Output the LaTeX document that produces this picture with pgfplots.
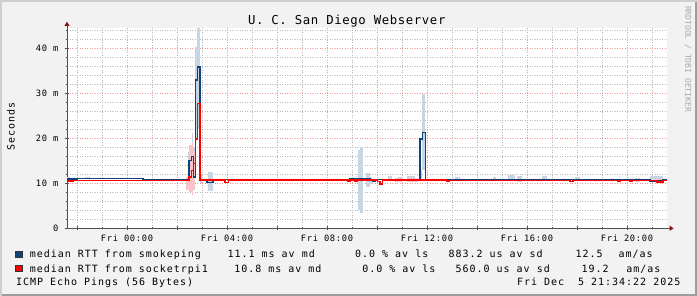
\documentclass[border=0pt]{standalone}
\usepackage{fontspec}
\usepackage{pgfplots}
\pgfplotsset{compat=1.18}
\usetikzlibrary{arrows.meta}
\newfontfamily\legfont{DejaVu Sans Mono}[LetterSpace=9.8]
\newfontfamily\axfont{DejaVu Sans Mono}[LetterSpace=7.8]
\newfontfamily\titfont{DejaVu Sans Mono}[LetterSpace=5]
\newfontfamily\wmfont{DejaVu Sans Mono}
\definecolor{bgc}{RGB}{242,242,242}
\definecolor{shadeA}{RGB}{207,207,207}
\definecolor{shadeB}{RGB}{158,158,158}
\definecolor{gridred}{RGB}{245,150,150}
\definecolor{gridgray}{RGB}{185,185,185}
\definecolor{axisgray}{RGB}{80,80,80}
\definecolor{arrowred}{RGB}{140,20,20}
\definecolor{lineblue}{RGB}{15,65,125}
\definecolor{linered}{RGB}{255,0,0}
\definecolor{smokeblue}{RGB}{200,214,228}
\definecolor{smokepink}{RGB}{250,195,200}
\newcommand\smoke[5]{\addplot[fill=#1,draw=none,forget plot] coordinates {(#2,#4)(#2,#5)(#3,#5)(#3,#4)};}
\begin{document}
\begin{tikzpicture}
\useasboundingbox (0bp,0bp) rectangle (697bp,296bp);
\begin{scope}[x=1bp,y=1bp]
\fill[bgc] (0,0) rectangle (697,296);
\fill[shadeA] (0,0) rectangle (2,296);
\fill[shadeA] (0,294) rectangle (697,296);
\fill[shadeB] (695,0) rectangle (697,294);
\fill[shadeB] (2,0) rectangle (697,2);
\end{scope}
\begin{axis}[
  at={(67bp,67.7bp)}, anchor=south west,
  width=600bp, height=200.6bp, scale only axis,
  xmin=-2.4, xmax=21.6, ymin=0, ymax=44.6,
  axis background/.style={fill=white},
  axis lines=left,
  x axis line style={draw=axisgray, line width=1bp, shorten >=-6.6bp, -{Triangle[length=4bp,width=5bp,color=arrowred]}},
  y axis line style={draw=axisgray, line width=1bp, shorten >=-6bp, -{Triangle[length=4.3bp,width=5bp,color=arrowred]}},
  xtick={-2,0,...,20},
  xticklabels={,Fri 00:00,,Fri 04:00,,Fri 08:00,,Fri 12:00,,Fri 16:00,,Fri 20:00},
  minor xtick={-1,1,...,21},
  ytick={0,10,20,30,40},
  yticklabels={0,10 m,20 m,30 m,40 m},
  minor ytick={2,4,6,8,12,14,16,18,22,24,26,28,32,34,36,38,42,44},
  grid=both,
  major grid style={draw=gridred, dash pattern=on 1bp off 1.5bp, line width=1bp},
  minor grid style={draw=gridgray, dash pattern=on 1bp off 1.5bp, line width=1bp},
  tick style={draw=axisgray, line width=0.8bp},
  major tick length=4bp, minor tick length=2bp,
  tick align=center,
  xticklabel style={font=\fontsize{8.75bp}{10bp}\axfont, text=black, inner sep=0pt, anchor=base, yshift=-11.7bp},
  yticklabel style={font=\fontsize{8.75bp}{10bp}\axfont, text=black, inner sep=0pt, anchor=east, xshift=-6.5bp},
  clip=true,
]
% smoke smokeping
\smoke{smokeblue}{-2.4}{-2.28}{10.8}{11.5}
\smoke{smokeblue}{-1.68}{-1.48}{11.0}{11.4}
\smoke{smokeblue}{2.44}{2.588}{9.5}{17}
\smoke{smokeblue}{2.588}{2.652}{9.0}{21.2}
\smoke{smokeblue}{2.652}{2.732}{8.5}{18}
\smoke{smokeblue}{2.732}{2.812}{20}{40.4}
\smoke{smokeblue}{2.812}{2.90}{22}{44.6}
\smoke{smokeblue}{2.92}{3.0}{10}{12}
\smoke{smokeblue}{3.24}{3.44}{8.4}{12.5}
\smoke{smokeblue}{9.228}{9.332}{4.0}{17.5}
\smoke{smokeblue}{9.332}{9.452}{3.3}{18.1}
\smoke{smokeblue}{9.56}{9.72}{9.1}{12.2}
\smoke{smokeblue}{9.72}{9.8}{9.8}{11.4}
\smoke{smokeblue}{10.44}{10.6}{10.6}{11.6}
\smoke{smokeblue}{10.84}{11.0}{10.6}{11.4}
\smoke{smokeblue}{11.2}{11.52}{10.4}{11.6}
\smoke{smokeblue}{11.7}{11.812}{10.5}{13}
\smoke{smokeblue}{11.812}{11.932}{12.9}{29.9}
\smoke{smokeblue}{13.12}{13.32}{10.9}{11.5}
\smoke{smokeblue}{14.64}{14.76}{11.0}{11.4}
\smoke{smokeblue}{15.24}{15.52}{10.5}{11.8}
\smoke{smokeblue}{15.6}{15.8}{10.4}{11.6}
\smoke{smokeblue}{16.6}{16.8}{10.8}{11.6}
\smoke{smokeblue}{17.92}{18.12}{10.8}{11.4}
\smoke{smokeblue}{20.92}{21.44}{10.2}{11.7}
% smoke socketrpi1
\smoke{smokepink}{2.36}{2.48}{8.5}{11.5}
\smoke{smokepink}{2.48}{2.588}{8.0}{18.5}
\smoke{smokepink}{2.588}{2.652}{7.5}{19.2}
\smoke{smokepink}{2.652}{2.732}{9.0}{17}
\smoke{smokepink}{10.72}{11.0}{10.4}{11.2}
\smoke{smokepink}{11.32}{11.64}{10.3}{11.1}
\smoke{smokepink}{20.32}{20.52}{10.4}{11.2}
\smoke{smokepink}{21.0}{21.44}{10.3}{11.0}
% median smokeping
\addplot[const plot, draw=lineblue, line width=1.5bp] coordinates {
(-2.4,10.95) (-2.16,11.0) (-2.0,11.05) (0.64,10.9) (2.48,15.1) (2.588,16.0)
(2.652,11.4) (2.732,33.0) (2.812,35.9) (2.92,10.7) (3.0,10.9) (3.2,10.2)
(3.44,10.9) (3.52,10.7) (3.64,10.9) (8.84,10.8) (8.92,10.95) (9.72,10.7)
(9.84,10.45) (9.92,10.9) (11.72,19.9) (11.812,21.3) (11.932,10.85) (16.0,10.8)
(20.92,10.5) (21.44,10.8) (21.6,10.8)};
% median socketrpi1
\addplot[const plot, draw=linered, line width=1.5bp] coordinates {
(-2.4,10.55) (-2.16,10.65) (2.48,11.4) (2.588,12.9) (2.652,14.4) (2.732,19.9)
(2.812,27.7) (2.92,10.7) (3.92,10.2) (4.052,10.7) (8.84,10.4) (8.92,10.7)
(9.12,10.45) (9.2,10.7) (10.012,10.4) (10.12,9.8) (10.228,10.7) (12.8,10.4)
(12.88,10.65) (17.72,10.4) (17.84,10.65) (19.64,10.35) (19.72,10.6) (20.12,10.35)
(20.2,10.6) (21.2,10.25) (21.44,10.6) (21.6,10.6)};
\end{axis}
\begin{scope}[x=1bp,y=1bp]
% title
\node[anchor=base west, inner sep=0pt, font=\fontsize{12.3bp}{14bp}\titfont] at (247.8,272) {U. C. San Diego Webserver};
% y label
\node[rotate=90, inner sep=0pt, font=\fontsize{10bp}{12bp}\legfont] at (11,170) {Seconds};
% watermark
\node[rotate=-90, inner sep=0pt, text={rgb,255:red,168;green,168;blue,168}, font=\fontsize{8bp}{9bp}\wmfont] at (688,237) {RRDTOOL / TOBI OETIKER};
% legend
\filldraw[fill=lineblue, draw=black!80, line width=0.6bp] (15.7,38.5) rectangle (22,45);
\filldraw[fill=linered, draw=black!80, line width=0.6bp] (15.7,24.3) rectangle (22,30.7);
\begin{scope}[every node/.style={anchor=base west, inner sep=0pt, font=\fontsize{10bp}{12bp}\legfont}]
\node at (29.7,38.3) {median RTT from smokeping};
\node at (227.5,38.3) {11.1 ms av md};
\node at (355,38.3) {0.0 \% av ls};
\node at (448.4,38.3) {883.2 us av sd};
\node at (575.5,38.3) {12.5};
\node at (618.5,38.3) {am/as};
\node at (29.7,24) {median RTT from socketrpi1};
\node at (234.2,24) {10.8 ms av md};
\node at (362.2,24) {0.0 \% av ls};
\node at (455.5,24) {560.0 us av sd};
\node at (581.5,24) {19.2};
\node at (626.2,24) {am/as};
\node at (15.9,10.3) {ICMP Echo Pings (56 Bytes)};
\node[anchor=base east] at (680.5,10.3) {Fri Dec\ \ 5 21:34:22 2025};
\end{scope}
\end{scope}
\end{tikzpicture}
\end{document}
